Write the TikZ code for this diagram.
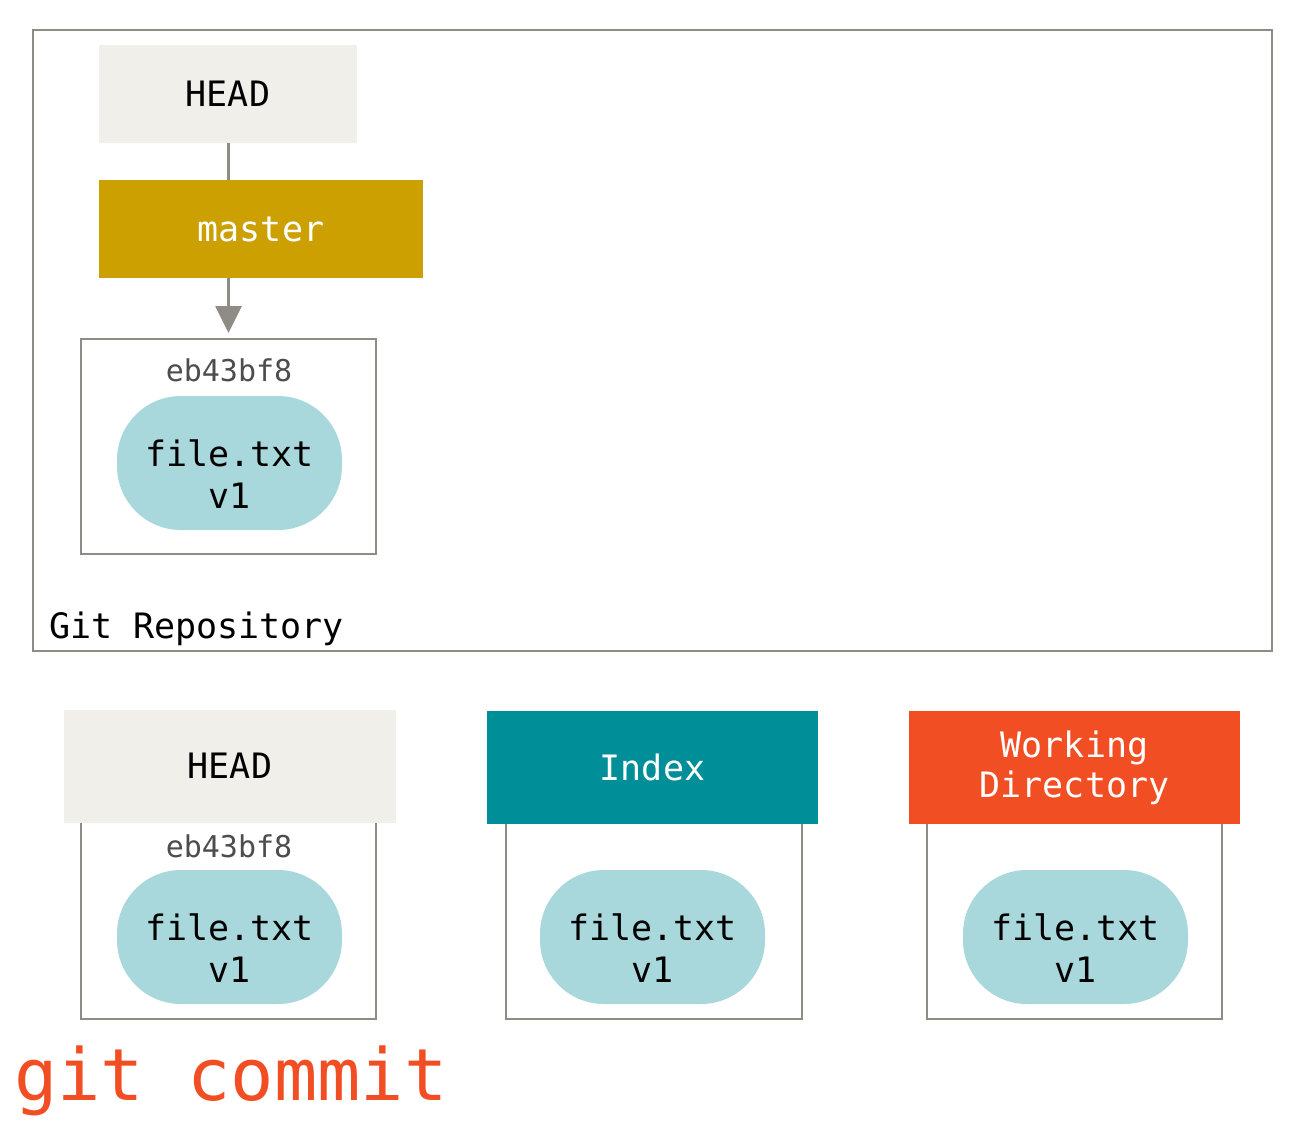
\documentclass[tikz,border=0pt]{standalone}
\usepackage{fontspec}
\setmainfont{DejaVu Sans Mono}
\usetikzlibrary{arrows.meta}
\definecolor{edgegray}{RGB}{142,140,132}
\definecolor{headfill}{RGB}{240,239,234}
\definecolor{goldfill}{RGB}{203,160,0}
\definecolor{tealfill}{RGB}{0,143,152}
\definecolor{orangefill}{RGB}{242,78,36}
\definecolor{pillfill}{RGB}{168,216,220}
\definecolor{hashgray}{RGB}{77,77,77}
\begin{document}
\begin{tikzpicture}[x=1pt,y=-1pt,
  every node/.style={inner sep=0pt, outer sep=0pt},
  lbl/.style={font=\fontsize{35}{42}\selectfont},
  framebox/.style={draw=edgegray, line width=2.8pt, fill=white},
  hdr/.style={lbl, minimum height=113pt, minimum width=332pt, align=center},
  pill/.style={fill=pillfill, minimum width=225pt, minimum height=134pt, rounded corners=64pt},
  pilltext/.style={lbl, align=center},
  hash/.style={font=\fontsize{30}{36}\selectfont, text=hashgray},
  conn/.style={draw=edgegray, line width=2.8pt},
  arr/.style={conn, -{Triangle[length=27pt,width=26pt]}, shorten >=6pt}
]
\useasboundingbox (0,0) rectangle (1302,1143);

% repository frame
\node[draw=edgegray, line width=2.8pt, minimum width=1239pt, minimum height=621pt] (repo) at (652.5,340.5) {};
\node[lbl, anchor=west] (repolabel) at (49,629) {Git Repository};

% HEAD -> master -> commit
\node[lbl, fill=headfill, minimum width=258pt, minimum height=98pt] (head) at (228,94) {HEAD};
\node[lbl, fill=goldfill, text=white, minimum width=324pt, minimum height=98pt] (master) at (261,229) {master};
\node[framebox, fill=none, minimum width=295pt, minimum height=215pt] (commit) at (228.5,446.5) {};
\node[hash] (hash1) at (229,370) {eb43bf8};
\node[pill] (pill1) at (229.5,463) {};
\node[pilltext] (pill1text) at (229.5,474) {file.txt\\v1};

\draw[conn] (commit.north |- head.south) -- (commit.north |- master.north);
\draw[arr] (commit.north |- master.south) -- (commit.north);

% bottom: HEAD tree
\node[framebox, minimum width=295pt, minimum height=199pt] (headbox) at (228.5,919.5) {};
\node[hdr, fill=headfill] (head2) at (230,766) {HEAD};
\node[hash] (hash2) at (229,846) {eb43bf8};
\node[pill] (pill2) at (229.5,937) {};
\node[pilltext] (pill2text) at (229.5,948) {file.txt\\v1};

% bottom: Index
\node[framebox, minimum width=296pt, minimum height=199pt] (indexbox) at (654,919.5) {};
\node[hdr, fill=tealfill, text=white, minimum width=331pt] (index) at (652.5,767.5) {Index};
\node[pill] (pill3) at (652.5,937) {};
\node[pilltext] (pill3text) at (652.5,948) {file.txt\\v1};

% bottom: Working Directory
\node[framebox, minimum width=295pt, minimum height=199pt] (wdbox) at (1074.5,919.5) {};
\node[hdr, fill=orangefill, text=white, minimum width=331pt, font=\fontsize{35}{40}\selectfont] (wd) at (1074.5,767.5) {Working\\Directory};
\node[pill] (pill4) at (1075.5,937) {};
\node[pilltext] (pill4text) at (1075.5,948) {file.txt\\v1};

% command
\node[anchor=base west, text=orangefill, font=\fontsize{72}{72}\selectfont] (cmd) at (14,1100) {git commit};
\end{tikzpicture}
\end{document}
